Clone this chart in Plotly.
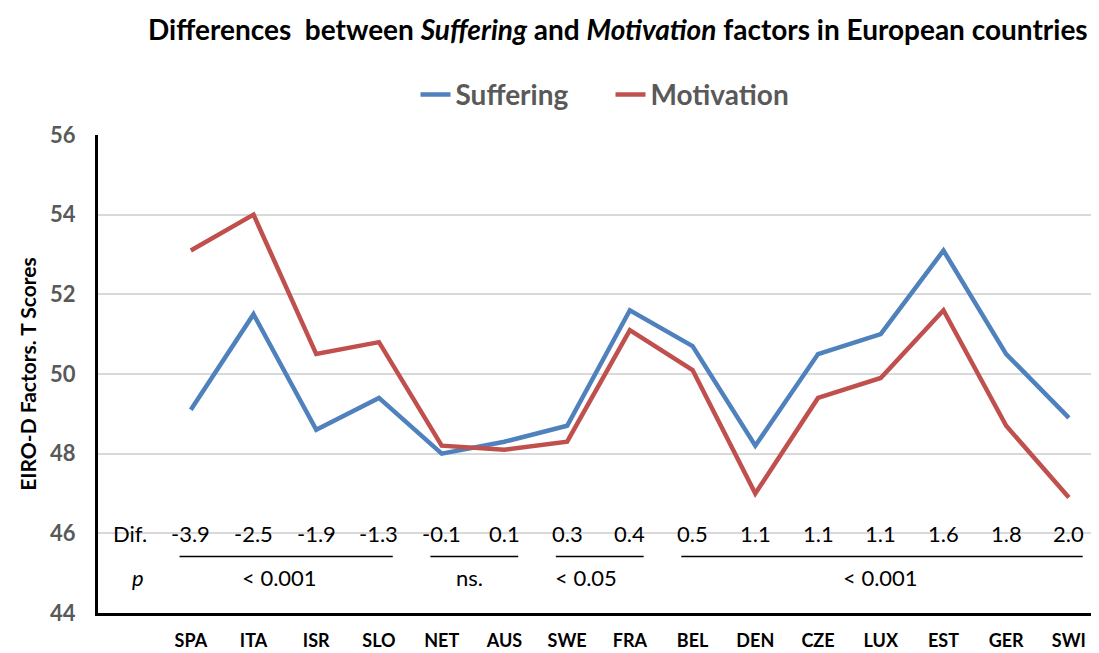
import plotly.graph_objects as go

countries = ["SPA", "ITA", "ISR", "SLO", "NET", "AUS", "SWE", "FRA",
             "BEL", "DEN", "CZE", "LUX", "EST", "GER", "SWI"]
suffering = [49.1, 51.5, 48.6, 49.4, 48.0, 48.3, 48.7, 51.6,
             50.7, 48.2, 50.5, 51.0, 53.1, 50.5, 48.9]
motivation = [53.1, 54.0, 50.5, 50.8, 48.2, 48.1, 48.3, 51.1,
              50.1, 47.0, 49.4, 49.9, 51.6, 48.7, 46.9]
dif_labels = ["-3.9", "-2.5", "-1.9", "-1.3", "-0.1", "0.1", "0.3", "0.4",
              "0.5", "1.1", "1.1", "1.1", "1.6", "1.8", "2.0"]
# p-value groups: (first index, last index, label)
p_groups = [(0, 3, "< 0.001"), (4, 5, "ns."), (6, 7, "< 0.05"), (8, 14, "< 0.001")]

x = list(range(len(countries)))
font = "Lato, 'Open Sans', sans-serif"
txt = dict(size=22, color="black")

fig = go.Figure()
fig.add_trace(go.Scatter(x=x, y=suffering, name="Suffering", mode="lines",
                         line=dict(color="#4f81bd", width=4.5)))
fig.add_trace(go.Scatter(x=x, y=motivation, name="Motivation", mode="lines",
                         line=dict(color="#c0504d", width=4.5)))

# difference row
fig.add_annotation(x=-0.97, y=46, text="Dif.", showarrow=False, font=txt)
for i, d in enumerate(dif_labels):
    fig.add_annotation(x=i, y=46, text=d, showarrow=False, font=txt)

# p row with underline segments
label_shift = [-0.08, -0.06, -0.2, 0.0]
fig.add_annotation(x=-0.85, y=44.9, text="<i>p</i>", showarrow=False, font=txt)
for (a, b, lab), dx in zip(p_groups, label_shift):
    fig.add_shape(type="line", xref="x", yref="y", x0=a - 0.18, x1=min(b + 0.22, 14.48),
                  y0=45.42, y1=45.42, line=dict(color="black", width=1.5))
    fig.add_annotation(x=(a + b) / 2 + dx, y=44.9, text=lab, showarrow=False, font=txt)

# page body keeps an 8px margin, so the figure is 8px smaller than the window
fig.update_layout(
    width=1091, height=645,
    paper_bgcolor="white", plot_bgcolor="white",
    margin=dict(l=90, r=0, t=127, b=40, autoexpand=False),
    font=dict(family=font),
    title=dict(
        text="Differences  between <i>Suffering</i> and <i>Motivation</i> factors in European countries",
        x=0.559, xanchor="center", y=0.966, yanchor="middle",
        font=dict(size=28, color="black", weight="bold"),
    ),
    legend=dict(orientation="h", x=0.512, xanchor="center", y=1.084, yanchor="middle",
                font=dict(size=28, color="#595959", weight="bold"),
                entrywidth=150, traceorder="normal"),
    showlegend=True,
)
fig.update_xaxes(
    range=[-1.48, 14.48], tickvals=x, ticktext=countries,
    showgrid=False, zeroline=False,
    showline=True, linecolor="black", linewidth=3,
    ticks="outside", ticklen=9, tickcolor="rgba(0,0,0,0)",
    tickfont=dict(size=18, color="black", weight="bold"),
)
fig.update_yaxes(
    range=[44, 56], dtick=2,
    showgrid=True, gridcolor="#d9d9d9", gridwidth=1.5, zeroline=False,
    showline=True, linecolor="black", linewidth=3,
    ticks="outside", ticklen=15, tickcolor="rgba(0,0,0,0)",
    tickfont=dict(size=22, color="#595959", weight="bold"),
    title=dict(text="EIRO-D Factors. T Scores", standoff=8,
               font=dict(size=21, color="black", weight="bold")),
)

fig.write_html("out.html")
